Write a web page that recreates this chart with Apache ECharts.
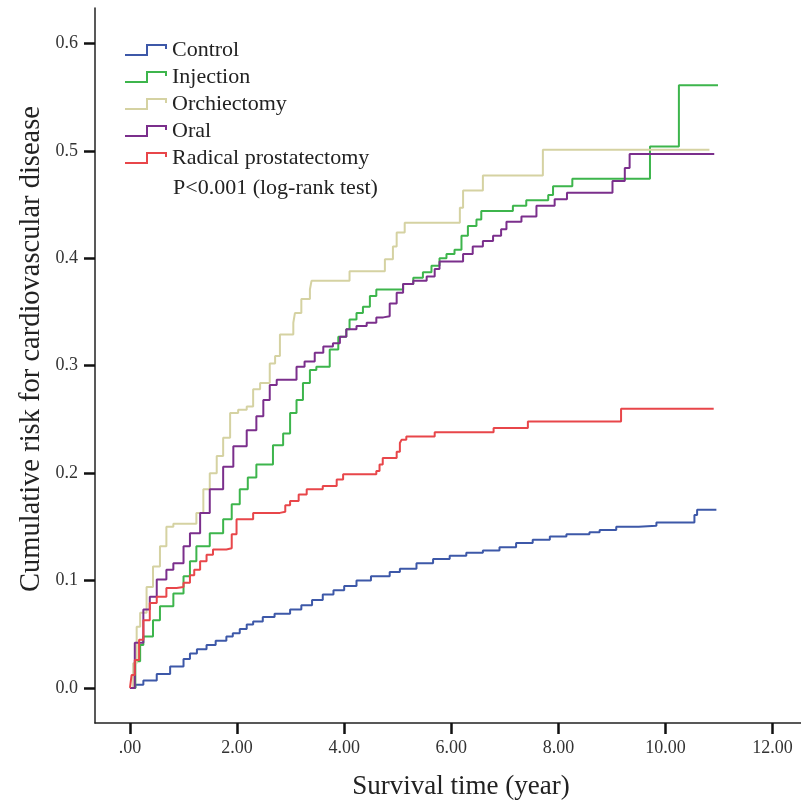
<!DOCTYPE html>
<html>
<head>
<meta charset="utf-8">
<script src="https://cdn.jsdelivr.net/npm/echarts@6/dist/echarts.min.js"></script>
<style>
  html, body { margin: 0; padding: 0; background: #fff; }
  #chart { width: 801px; height: 803px; }
</style>
</head>
<body>
<div id="chart"></div>
<script>
var groups = ['Control', 'Injection', 'Orchiectomy', 'Oral', 'Radical prostatectomy'];
var colors = ['#3d58a8', '#3db54c', '#d5d2a2', '#7b2f8c', '#e8464a'];

var xTicks = [0, 2, 4, 6, 8, 10, 12];
var yTicks = [0, 0.1, 0.2, 0.3, 0.4, 0.5, 0.6];

// [time (year), cumulative risk]
var control = [
  [0, 0], [0.1, 0.003], [0.25, 0.007], [0.5, 0.013], [0.75, 0.02], [1.0, 0.027],
  [1.12, 0.032], [1.25, 0.036], [1.43, 0.040], [1.6, 0.044], [1.8, 0.048], [1.92, 0.051],
  [2.05, 0.055], [2.18, 0.059], [2.3, 0.062], [2.48, 0.066], [2.7, 0.069], [2.99, 0.073],
  [3.2, 0.077], [3.4, 0.082], [3.6, 0.087], [3.8, 0.091], [4.0, 0.095], [4.23, 0.100],
  [4.5, 0.104], [4.85, 0.108], [5.04, 0.111], [5.35, 0.116], [5.66, 0.120], [5.97, 0.123],
  [6.28, 0.126], [6.59, 0.128], [6.9, 0.131], [7.21, 0.135], [7.52, 0.138], [7.84, 0.141],
  [8.15, 0.143], [8.58, 0.145], [8.77, 0.147], [9.08, 0.150], [9.5, 0.151], [9.83, 0.154],
  [10.54, 0.161], [10.59, 0.166], [10.95, 0.166]
];
var injection = [
  [0, 0], [0.1, 0.025], [0.19, 0.040], [0.25, 0.048], [0.43, 0.063], [0.56, 0.076],
  [0.81, 0.088], [1.0, 0.104], [1.12, 0.118], [1.24, 0.132], [1.49, 0.144], [1.74, 0.157],
  [1.9, 0.171], [2.05, 0.185], [2.2, 0.196], [2.36, 0.208], [2.67, 0.226], [2.86, 0.237],
  [2.99, 0.256], [3.11, 0.268], [3.23, 0.284], [3.36, 0.296], [3.48, 0.299], [3.73, 0.315],
  [3.89, 0.327], [4.04, 0.334], [4.10, 0.343], [4.23, 0.349], [4.35, 0.355], [4.48, 0.365],
  [4.60, 0.371], [5.10, 0.376], [5.29, 0.382], [5.47, 0.387], [5.63, 0.393], [5.78, 0.400],
  [5.91, 0.404], [6.06, 0.408], [6.19, 0.421], [6.31, 0.430], [6.47, 0.436], [6.56, 0.444],
  [7.15, 0.449], [7.40, 0.454], [7.81, 0.459], [7.90, 0.467], [8.26, 0.474], [9.71, 0.504],
  [10.25, 0.561], [10.98, 0.561]
];
var orchiectomy = [
  [0, 0], [0.06, 0.023], [0.125, 0.057], [0.19, 0.070], [0.31, 0.094], [0.43, 0.113],
  [0.56, 0.132], [0.68, 0.150], [0.81, 0.153], [1.24, 0.163], [1.37, 0.185], [1.49, 0.200],
  [1.62, 0.216], [1.74, 0.233], [1.87, 0.256], [2.02, 0.259], [2.18, 0.262], [2.30, 0.278],
  [2.43, 0.284], [2.61, 0.302], [2.71, 0.309], [2.80, 0.329], [3.05, 0.340], [3.08, 0.349],
  [3.20, 0.362], [3.36, 0.371], [3.39, 0.379], [4.10, 0.388], [4.76, 0.399], [4.91, 0.411],
  [4.98, 0.424], [5.13, 0.433], [6.16, 0.447], [6.22, 0.463], [6.59, 0.477], [7.71, 0.501],
  [10.82, 0.501]
];
var oral = [
  [0, 0], [0.09, 0.042], [0.25, 0.073], [0.37, 0.085], [0.5, 0.101], [0.68, 0.110],
  [0.81, 0.116], [1.0, 0.132], [1.12, 0.144], [1.31, 0.163], [1.49, 0.185], [1.74, 0.206],
  [1.93, 0.225], [2.18, 0.240], [2.36, 0.253], [2.49, 0.268], [2.61, 0.282], [2.74, 0.287],
  [3.11, 0.299], [3.26, 0.304], [3.45, 0.312], [3.61, 0.318], [3.79, 0.321], [3.92, 0.327],
  [4.04, 0.334], [4.23, 0.337], [4.42, 0.340], [4.60, 0.345], [4.73, 0.346], [4.85, 0.358],
  [4.98, 0.368], [5.10, 0.376], [5.29, 0.379], [5.54, 0.383], [5.69, 0.390], [5.78, 0.397],
  [6.22, 0.404], [6.40, 0.411], [6.59, 0.416], [6.78, 0.421], [6.93, 0.427], [7.03, 0.434],
  [7.31, 0.439], [7.59, 0.449], [7.93, 0.455], [8.16, 0.461], [9.01, 0.472], [9.24, 0.484],
  [9.33, 0.497], [10.91, 0.497]
];
var prostatectomy = [
  [0, 0], [0.03, 0.012], [0.09, 0.026], [0.17, 0.045], [0.25, 0.063], [0.37, 0.079],
  [0.5, 0.085], [0.68, 0.093], [0.87, 0.094], [1.0, 0.098], [1.12, 0.105], [1.2, 0.110],
  [1.31, 0.118], [1.43, 0.124], [1.55, 0.129], [1.8, 0.130], [1.9, 0.143], [1.99, 0.157],
  [2.3, 0.163], [2.8, 0.164], [2.9, 0.170], [2.99, 0.174], [3.15, 0.180], [3.3, 0.185],
  [3.6, 0.188], [3.86, 0.194], [3.98, 0.199], [4.6, 0.202], [4.66, 0.208], [4.72, 0.214],
  [4.98, 0.220], [5.04, 0.228], [5.07, 0.231], [5.16, 0.234], [5.69, 0.238], [6.79, 0.242],
  [7.43, 0.248], [9.17, 0.260], [10.9, 0.260]
];
var seriesData = [control, injection, orchiectomy, oral, prostatectomy];

var font = 'Liberation Serif';
var stepIcon = 'path://M0,10 L21,10 L21,0 L42,0 L42,5 L40,5 L40,2 L23,2 L23,12 L0,12 Z';

var chart = echarts.init(document.getElementById('chart'));

var series = [];
for (var i = 0; i < groups.length; i++) {
  series.push({
    name: groups[i],
    type: 'line',
    step: 'end',
    showSymbol: false,
    data: seriesData[i],
    lineStyle: { color: colors[i], width: 2 },
    itemStyle: { color: colors[i] }
  });
}

var option = {
  animation: false,
  backgroundColor: '#fff',
  color: colors,
  grid: { left: 95, right: 0, top: 8, bottom: 80 },
  legend: {
    orient: 'vertical',
    left: 125,
    top: 39,
    padding: 0,
    itemGap: 5,
    itemWidth: 42,
    itemHeight: 12,
    icon: stepIcon,
    textStyle: { fontFamily: font, fontSize: 22, color: '#222', lineHeight: 22 },
    data: groups
  },
  xAxis: {
    type: 'value',
    min: -0.653,
    max: 12.53,
    axisLine: { onZero: false, lineStyle: { color: '#222', width: 1.5 } },
    axisTick: { customValues: xTicks, length: 11, lineStyle: { color: '#111', width: 2.5 } },
    axisLabel: {
      customValues: xTicks,
      margin: 16,
      fontFamily: font,
      fontSize: 18,
      color: '#333',
      formatter: function (v) { return v === 0 ? '.00' : v.toFixed(2); }
    },
    splitLine: { show: false }
  },
  yAxis: {
    type: 'value',
    min: -0.0326,
    max: 0.633,
    axisLine: { show: true, onZero: false, lineStyle: { color: '#222', width: 1.5 } },
    axisTick: { show: true, customValues: yTicks, length: 11, lineStyle: { color: '#111', width: 2.5 } },
    axisLabel: {
      customValues: yTicks,
      margin: 17,
      fontFamily: font,
      fontSize: 18,
      color: '#333',
      formatter: function (v) { return v.toFixed(1); }
    },
    splitLine: { show: false }
  },
  graphic: [
    {
      type: 'text',
      left: 173,
      top: 177,
      style: { text: 'P<0.001 (log-rank test)', font: '22px ' + font, fill: '#222' }
    },
    {
      type: 'text',
      x: 461,
      y: 787,
      style: {
        text: 'Survival time (year)', font: '27px ' + font, fill: '#222',
        textAlign: 'center', textVerticalAlign: 'middle'
      }
    },
    {
      type: 'text',
      x: 32,
      y: 349,
      rotation: Math.PI / 2,
      style: {
        text: 'Cumulative risk for cardiovascular disease', font: '28.5px ' + font, fill: '#222',
        textAlign: 'center', textVerticalAlign: 'middle'
      }
    }
  ],
  series: series
};

chart.setOption(option);
</script>
</body>
</html>
